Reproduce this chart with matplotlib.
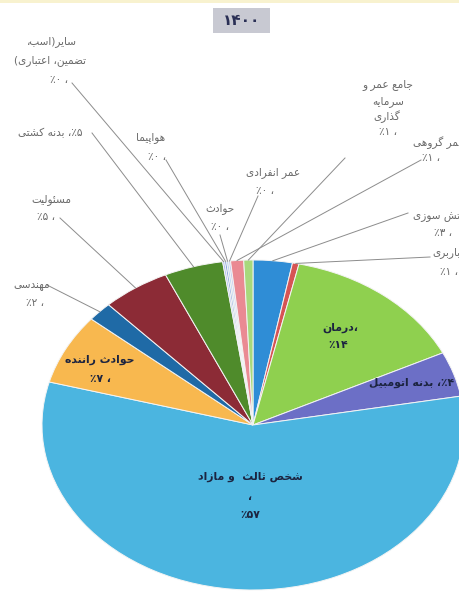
import re
import numpy as np
import matplotlib.pyplot as plt
from matplotlib.patches import Rectangle

# slices, clockwise from 12 o'clock
names = ["آتش سوزی", "باربری", "درمان", "بدنه اتومبیل", "شخص ثالث و مازاد",
         "حوادث راننده", "مهندسی", "مسئولیت", "بدنه کشتی",
         "سایر(اسب، تضمین، اعتباری)", "هواپیما", "حوادث", "عمر انفرادی",
         "عمر گروهی", "جامع عمر و سرمایه گذاری"]
shares = [3.0, 0.5, 14.3, 4.4, 57.0, 6.9, 1.9, 5.2, 4.5,
          0.15, 0.15, 0.15, 0.15, 1.0, 0.7]
colors = ["#2f8dd6", "#d65454", "#8fd04f", "#6c6fc6", "#4bb5e0",
          "#f8b84f", "#1f6aa6", "#8c2b36", "#4f8b2b",
          "#a9bdf0", "#7f9edc", "#b4d2f2", "#c3c9f0",
          "#ea8a93", "#a8d97c"]

# label lines (logical order), one list per slice
label_lines = [
    ["آتش سوزی", "، ۳٪"],
    ["باربری", "، ۱٪"],
    ["،درمان", "۱۴٪"],
    ["۴٪، بدنه اتومبیل"],
    ["شخص ثالث  و مازاد", "،", "۵۷٪"],
    ["حوادث راننده", "، ۷٪"],
    ["مهندسی", "، ۲٪"],
    ["مسئولیت", "، ۵٪"],
    ["۵٪، بدنه کشتی"],
    ["سایر(اسب،", "تضمین، اعتباری)", "، ۰٪"],
    ["هواپیما", "، ۰٪"],
    ["حوادث", "، ۰٪"],
    ["عمر انفرادی", "، ۰٪"],
    ["عمر گروهی", "، ۱٪"],
    ["جامع عمر و", "سرمایه", "گذاری", "، ۱٪"],
]
title = "۱۴۰۰"

# layout (pixels of the 460x592 picture); labels on the right run off the edge
W, H = 460, 592
CX, CY, RX, RY = 253, 425, 211, 165
line_pos = [
    [(413, 215, "left"), (443, 233, "center")],
    [(432, 253, "left"), (449, 272, "center")],
    [(340, 328, "center"), (338, 345, "center")],
    [(369, 383, "left")],
    [(250, 477, "center"), (250, 497, "center"), (250, 515, "center")],
    [(100, 360, "center"), (100, 379, "center")],
    [(32, 285, "center"), (35, 303, "center")],
    [(51, 200, "center"), (46, 217, "center")],
    [(50, 133, "center")],
    [(52, 42, "center"), (50, 61, "center"), (59, 80, "center")],
    [(151, 138, "center"), (157, 157, "center")],
    [(220, 209, "center"), (220, 227, "center")],
    [(273, 173, "center"), (265, 191, "center")],
    [(413, 143, "left"), (431, 158, "center")],
    [(388, 85, "center"), (388, 102, "center"), (387, 117, "center"), (388, 132, "center")],
]
inside = {2, 3, 4, 5}
leader_start = {0: (408, 213), 1: (430, 257), 6: (47, 285), 7: (60, 218),
                8: (92, 133), 9: (72, 83), 10: (166, 160), 11: (220, 235),
                12: (258, 196), 13: (421, 160), 14: (345, 158)}

DUAL = {'ئ': 0xFE89, 'ب': 0xFE8F, 'ت': 0xFE95, 'ث': 0xFE99, 'ج': 0xFE9D,
        'ح': 0xFEA1, 'خ': 0xFEA5, 'س': 0xFEB1, 'ش': 0xFEB5, 'ص': 0xFEB9,
        'ض': 0xFEBD, 'ط': 0xFEC1, 'ظ': 0xFEC5, 'ع': 0xFEC9, 'غ': 0xFECD,
        'ف': 0xFED1, 'ق': 0xFED5, 'ل': 0xFEDD, 'م': 0xFEE1, 'ن': 0xFEE5,
        'ه': 0xFEE9, 'ک': 0xFB8E, 'گ': 0xFB92, 'ی': 0xFBFC, 'پ': 0xFB56,
        'چ': 0xFB7A}
RIGHT = {'آ': 0xFE81, 'أ': 0xFE83, 'ؤ': 0xFE85, 'إ': 0xFE87, 'ا': 0xFE8D,
         'د': 0xFEA9, 'ذ': 0xFEAB, 'ر': 0xFEAD, 'ز': 0xFEAF, 'و': 0xFEED,
         'ژ': 0xFB8A}


def shape(s):
    # contextual forms + visual (right to left) order
    out = []
    for i, c in enumerate(s):
        prev = s[i - 1] if i > 0 else ""
        nxt = s[i + 1] if i + 1 < len(s) else ""
        base = DUAL.get(c, RIGHT.get(c))
        if base is None:
            out.append(c)
            continue
        jp = prev in DUAL
        jn = c in DUAL and (nxt in DUAL or nxt in RIGHT)
        if jp and jn:
            base += 3
        elif jp:
            base += 1
        elif jn:
            base += 2
        out.append(chr(base))
    vis = "".join(out)[::-1]
    vis = re.sub(r"[0-9۰-۹]+", lambda m: m.group(0)[::-1], vis)
    return vis.translate(str.maketrans("()", ")("))


def px(x, y):
    return (x - CX) / RX, (CY - y) / RY


plt.rcParams["font.family"] = ["DejaVu Sans"]
fig = plt.figure(figsize=(W / 100, H / 100), dpi=100)
fig.patch.set_facecolor("white")
ax = fig.add_axes([0, 0, 1, 1])

wedges, _ = ax.pie(shares, colors=colors, startangle=90, counterclock=False,
                   wedgeprops=dict(edgecolor="#f4f4f4", linewidth=0.7))
ax.set_aspect("auto")
ax.set_xlim(px(0, 0)[0], px(W, 0)[0])
ax.set_ylim(px(0, H)[1], px(0, 0)[1])
ax.axis("off")

for i, w in enumerate(wedges):
    for line, (x, y, ha) in zip(label_lines[i], line_pos[i]):
        if i in inside:
            ax.text(*px(x, y), shape(line), ha=ha, va="center", fontsize=7.8,
                    color="#1c2440", fontweight="bold")
        else:
            ax.text(*px(x, y), shape(line), ha=ha, va="center", fontsize=7.6,
                    color="#6a6a6a")
    if i in leader_start:
        mid = np.deg2rad((w.theta1 + w.theta2) / 2)
        x0, y0 = px(*leader_start[i])
        ax.plot([x0, np.cos(mid)], [y0, np.sin(mid)], color="#8c8c8c", lw=0.7)

# faint yellow strip along the top edge and the year box
fig.add_artist(Rectangle((0, 1 - 3 / H), 1, 3 / H, transform=fig.transFigure,
                         facecolor="#f8f2cf", edgecolor="none"))
fig.add_artist(Rectangle((213 / W, 1 - 33 / H), 57 / W, 25 / H,
                         transform=fig.transFigure, facecolor="#c8c9d2",
                         edgecolor="none"))
fig.text(241.5 / W, 1 - 20.5 / H, shape(title), ha="center", va="center",
         fontsize=11, fontweight="bold", color="#2a2f55")

fig.savefig("out.png", dpi=100)
